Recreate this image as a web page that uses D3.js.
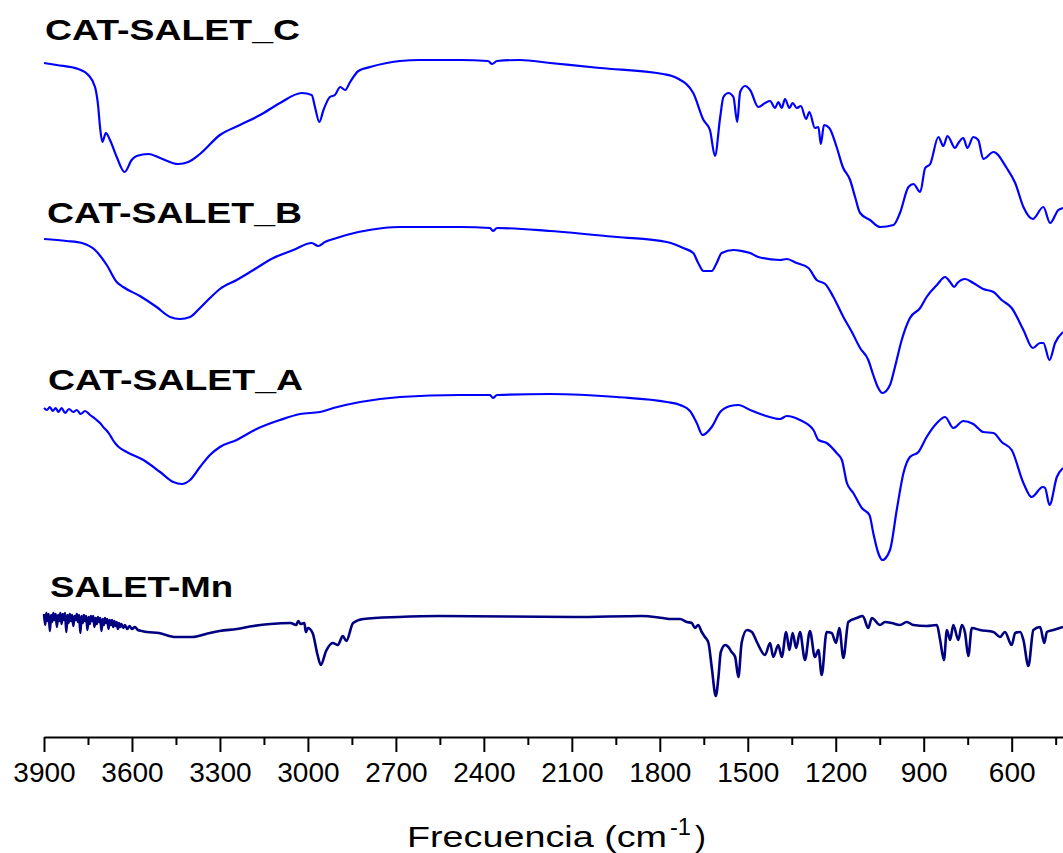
<!DOCTYPE html>
<html>
<head>
<meta charset="utf-8">
<script src="https://cdn.jsdelivr.net/npm/d3@7"></script>
<style>
  body { margin: 0; background: #fff; }
  svg { display: block; }
</style>
</head>
<body>
<div id="chart"></div>
<script>
// IR spectra, stacked (arbitrary transmittance units, offset per trace)
const seriesNames = ["CAT-SALET_C", "CAT-SALET_B", "CAT-SALET_A", "SALET-Mn"];
const seriesColors = ["#0000ff", "#0000ff", "#0000ff", "#000080"];
const majorTicks = [3900, 3600, 3300, 3000, 2700, 2400, 2100, 1800, 1500, 1200, 900, 600];
const minorTicks = [3750, 3450, 3150, 2850, 2550, 2250, 1950, 1650, 1350, 1050, 750, 450];

// [wavenumber cm-1, transmittance a.u.]
const specC = [
  [3900,674],[3857,672],[3783,668],[3749,662],[3726,650],[3715,630],[3709,610],[3701,595],
  [3689,604],[3675,597],[3652,580],[3625,565],[3601,577],[3584,581],[3544,583],[3504,579],
  [3442,573],[3408,575],[3368,583],[3300,602],[3232,612],[3163,622],[3095,634],[3021,644],
  [2987,642],[2976,630],[2961,615],[2947,627],[2925,640],[2908,642],[2890,650],[2873,647],
  [2856,655],[2828,666],[2788,670],[2731,674],[2686,676],[2618,677],[2481,677],[2386,676],
  [2372,673],[2355,676],[2277,677],[2174,674],[2004,669],[1789,663],[1742,659],[1686,644],
  [1651,617],[1629,607],[1612,581],[1594,620],[1583,640],[1566,644],[1549,640],[1536,615],
  [1526,645],[1509,651],[1492,647],[1464,630],[1441,634],[1424,636],[1407,629],[1396,635],
  [1384,629],[1373,638],[1358,629],[1347,634],[1333,629],[1319,631],[1301,618],[1290,625],
  [1271,609],[1259,610],[1251,593],[1240,612],[1222,609],[1197,590],[1176,570],[1151,557],
  [1134,540],[1117,524],[1083,517],[1049,510],[1003,512],[981,524],[952,550],[935,553],
  [912,545],[895,569],[878,573],[850,600],[833,591],[819,601],[793,589],[782,594],
  [765,599],[751,589],[731,600],[714,597],[697,578],[662,585],[617,569],[588,554],
  [560,530],[528,518],[492,530],[469,514],[441,527],[425,529]
];

const specB = [
  [3900,498],[3823,496],[3771,494],[3726,487],[3686,472],[3652,455],[3630,450],[3573,441],
  [3516,430],[3470,420],[3436,418],[3402,420],[3368,429],[3334,439],[3300,448],[3243,457],
  [3186,467],[3118,479],[3050,487],[2987,494],[2965,491],[2942,495],[2902,499],[2828,505],
  [2743,509],[2686,510],[2481,510],[2379,509],[2369,506],[2355,509],[2174,506],[1947,500],
  [1776,495],[1720,489],[1686,484],[1669,474],[1651,466],[1623,466],[1606,474],[1589,484],
  [1549,487],[1521,486],[1492,484],[1464,480],[1390,477],[1367,478],[1333,474],[1293,469],
  [1265,457],[1236,453],[1208,440],[1174,420],[1145,405],[1117,389],[1089,377],[1072,362],
  [1055,349],[1041,344],[1015,352],[998,370],[975,397],[947,419],[912,429],[890,440],
  [855,452],[827,460],[810,455],[796,450],[785,454],[759,458],[731,454],[697,448],
  [662,445],[634,437],[600,429],[560,407],[528,389],[503,394],[492,394],[471,377],
  [452,394],[425,405]
];

const specA = [
  [3900,329],[3890,327],[3880,330],[3870,326],[3860,329],[3851,325],[3840,329],[3828,324],
  [3815,328],[3800,325],[3788,327],[3775,323],[3760,326],[3743,322],[3725,318],[3709,314],
  [3695,309],[3685,306],[3675,302],[3665,297],[3655,293],[3641,289],[3618,285],[3561,277],
  [3504,265],[3459,255],[3430,253],[3402,257],[3368,270],[3334,282],[3300,290],[3243,297],
  [3175,308],[3095,317],[3027,323],[2959,325],[2913,329],[2822,335],[2686,340],[2481,342],
  [2379,342],[2369,339],[2355,342],[2174,343],[1947,340],[1776,335],[1731,332],[1697,326],
  [1674,314],[1654,302],[1623,310],[1594,325],[1560,331],[1532,332],[1492,327],[1447,322],
  [1390,318],[1367,321],[1322,317],[1276,307],[1259,297],[1231,294],[1197,284],[1179,277],
  [1162,254],[1140,244],[1111,229],[1085,222],[1072,204],[1055,184],[1041,177],[1015,187],
  [992,227],[969,264],[947,280],[918,285],[890,300],[855,314],[827,320],[799,309],
  [765,316],[731,313],[697,305],[662,304],[634,295],[600,287],[560,254],[532,240],
  [494,250],[486,249],[471,232],[446,260],[425,269]
];

const specMn = [
  [3900,123],[3896,112],[3892,124],[3888,116],[3884,123],[3880,106],[3876,122],[3872,115],
  [3868,124],[3864,117],[3860,123],[3856,110],[3852,122],[3848,116],[3844,124],[3840,113],
  [3836,123],[3832,117],[3828,124],[3824,105],[3820,122],[3816,114],[3812,123],[3808,116],
  [3804,122],[3800,111],[3796,121],[3792,117],[3788,123],[3784,115],[3780,122],[3776,104],
  [3772,121],[3768,114],[3764,122],[3760,116],[3756,121],[3752,107],[3748,120],[3744,113],
  [3740,121],[3736,116],[3732,121],[3728,110],[3724,119],[3720,113],[3716,120],[3712,115],
  [3708,119],[3704,106],[3700,118],[3696,112],[3692,119],[3688,114],[3684,118],[3680,108],
  [3676,117],[3672,112],[3668,117],[3664,110],[3660,116],[3656,111],[3652,115],[3648,108],
  [3644,114],[3640,110],[3636,113],[3630,109],[3624,112],[3616,108],[3608,111],[3600,108],
  [3590,110],[3580,107],[3566,106],[3550,105],[3508,104],[3451,100],[3393,100],[3348,103],
  [3301,106],[3243,108],[3186,111],[3128,113],[3059,114],[3040,112],[3033,116],[3025,113],
  [3012,114],[3007,105],[3000,109],[2984,104],[2967,82],[2956,72],[2938,86],[2915,94],
  [2898,92],[2881,101],[2869,96],[2846,114],[2811,118],[2691,120],[2552,121],[2092,120],
  [1860,121],[1790,119],[1760,118],[1731,118],[1708,115],[1691,114],[1680,109],[1669,112],
  [1657,105],[1646,100],[1634,94],[1623,70],[1609,41],[1600,60],[1592,85],[1577,92],
  [1566,90],[1555,85],[1543,80],[1532,60],[1521,94],[1503,107],[1486,105],[1469,95],
  [1441,82],[1424,94],[1413,80],[1396,92],[1384,80],[1369,105],[1358,87],[1347,104],
  [1335,89],[1322,105],[1305,77],[1288,106],[1271,80],[1259,87],[1248,62],[1231,105],
  [1214,104],[1199,94],[1188,109],[1174,79],[1157,115],[1128,119],[1108,121],[1089,109],
  [1077,119],[1049,112],[1032,115],[1009,114],[981,112],[958,115],[935,112],[890,111],
  [855,112],[844,97],[831,77],[821,107],[810,97],[799,112],[782,97],[770,112],
  [759,104],[748,81],[736,109],[708,107],[662,105],[640,100],[623,105],[600,92],
  [588,104],[571,105],[560,97],[543,71],[526,107],[503,110],[489,94],[480,105],
  [458,107],[425,110]
];

const spectra = [specC, specB, specA, specMn];
const strokeWidths = [2.2, 2.2, 2.2, 2.6];
const labelPos = [[45, 40], [47, 223], [48, 390], [50, 597]];
const labelWidth = [255, 255, 255, 183];

const width = 1063, height = 853;
const axisY = 737;
const font = "Arial, 'Liberation Sans', sans-serif";

const svg = d3.select("#chart").append("svg")
  .attr("width", width)
  .attr("height", height)
  .style("background", "#fff");

const x = d3.scaleLinear().domain([3900, 425]).range([44, 1063]);
const y = d3.scaleLinear().domain([0, 700]).range([axisY, axisY - 700]);

const line = d3.line()
  .x(d => x(d[0]))
  .y(d => y(d[1]))
  .curve(d3.curveMonotoneX);

svg.selectAll(".spec")
  .data(spectra)
  .enter().append("path")
  .attr("class", "spec")
  .attr("d", line)
  .attr("fill", "none")
  .attr("stroke", (d, i) => seriesColors[i])
  .attr("stroke-width", (d, i) => strokeWidths[i])
  .attr("stroke-linejoin", "round");

svg.selectAll(".lbl")
  .data(seriesNames)
  .enter().append("text")
  .attr("class", "lbl")
  .attr("x", (d, i) => labelPos[i][0])
  .attr("y", (d, i) => labelPos[i][1])
  .attr("textLength", (d, i) => labelWidth[i])
  .attr("lengthAdjust", "spacingAndGlyphs")
  .style("font-family", font)
  .style("font-weight", "bold")
  .style("font-size", "30px")
  .attr("fill", "#000")
  .text(d => d);

// x axis, major and minor ticks
const gx = svg.append("g").attr("transform", `translate(0,${axisY})`);
gx.call(d3.axisBottom(x).tickValues(majorTicks).tickSize(15).tickSizeOuter(0).tickPadding(10)
  .tickFormat(d3.format("d")));
gx.select(".domain").attr("stroke", "#000").attr("stroke-width", 2);
gx.selectAll(".tick line").attr("stroke", "#000").attr("stroke-width", 2);
gx.selectAll(".tick text")
  .style("font-family", font)
  .style("font-size", "28px")
  .attr("fill", "#000");

const gm = svg.append("g").attr("transform", `translate(0,${axisY})`);
gm.call(d3.axisBottom(x).tickValues(minorTicks).tickSize(8).tickFormat(""));
gm.select(".domain").remove();
gm.selectAll(".tick line").attr("stroke", "#000").attr("stroke-width", 2);

// axis title: Frecuencia (cm^-1)
const title = svg.append("g")
  .style("font-family", font)
  .attr("fill", "#000");
title.append("text")
  .attr("x", 407).attr("y", 847)
  .attr("textLength", 260).attr("lengthAdjust", "spacingAndGlyphs")
  .style("font-size", "30px")
  .text("Frecuencia (cm");
title.append("text")
  .attr("x", 670).attr("y", 835)
  .attr("textLength", 21).attr("lengthAdjust", "spacingAndGlyphs")
  .style("font-size", "23px")
  .text("-1");
title.append("text")
  .attr("x", 695).attr("y", 847)
  .attr("textLength", 11).attr("lengthAdjust", "spacingAndGlyphs")
  .style("font-size", "30px")
  .text(")");
</script>
</body>
</html>
